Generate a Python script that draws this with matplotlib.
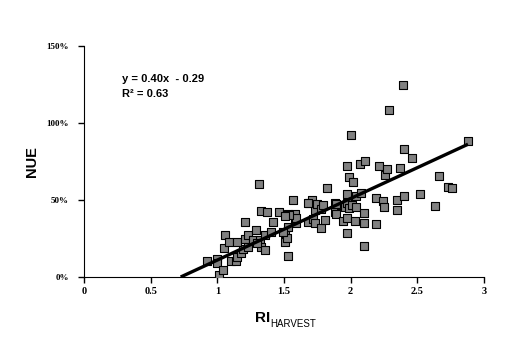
import numpy as np
import matplotlib
matplotlib.use("Agg")
import matplotlib.pyplot as plt

# RI harvest vs NUE (%)
ri = [0.92, 1.00, 1.00, 1.01, 1.04, 1.05, 1.06, 1.09, 1.10, 1.14,
      1.15, 1.18, 1.19, 1.15, 1.21, 1.21, 1.23, 1.23, 1.27, 1.29,
      1.31, 1.32, 1.33, 1.33, 1.36, 1.36, 1.37, 1.40, 1.42, 1.46,
      1.51, 1.51, 1.52, 1.53, 1.53, 1.53, 1.58, 1.58, 1.57, 1.59,
      1.59, 1.30, 1.49, 1.68, 1.69, 1.71, 1.72, 1.73, 1.73, 1.75,
      1.78, 1.78, 1.79, 1.81, 1.82, 1.88, 1.88, 1.89, 1.93, 1.94,
      1.96, 1.97, 1.97, 1.97, 1.97, 1.97, 1.99, 1.99, 2.00, 2.01,
      2.02, 2.03, 2.04, 2.04, 2.07, 2.08, 2.10, 2.10, 2.10, 2.11,
      2.19, 2.19, 2.21, 2.24, 2.25, 2.26, 2.27, 2.29, 2.35, 2.35,
      2.37, 2.39, 2.40, 2.40, 2.46, 2.52, 2.63, 2.66, 2.73, 2.76,
      2.88, 1.68, 1.54, 1.51, 1.89]
nue = [10.4, 11.7, 9.1, 1.3, 4.5, 18.8, 27.3, 22.7, 10.4, 10.4,
       13.0, 15.6, 18.2, 22.7, 24.7, 35.7, 27.3, 19.5, 24.0, 30.5,
       60.4, 24.0, 42.9, 19.5, 17.5, 27.3, 42.2, 29.2, 35.7, 42.2,
       28.6, 22.7, 25.3, 13.6, 32.5, 40.9, 40.9, 36.4, 50.0, 35.1,
       38.3, 22.1, 29.2, 35.7, 48.1, 50.0, 37.7, 43.5, 35.1, 47.4,
       44.2, 31.8, 46.8, 37.0, 57.8, 48.1, 42.2, 40.9, 46.8, 36.4,
       45.5, 48.1, 53.9, 72.1, 38.3, 28.6, 64.9, 44.8, 92.2, 46.8,
       61.7, 36.4, 45.5, 52.6, 73.4, 54.5, 41.6, 35.1, 20.1, 75.3,
       51.3, 34.4, 72.1, 49.4, 45.5, 66.2, 70.1, 108.4, 50.0, 43.5,
       70.8, 124.7, 52.6, 83.1, 77.3, 53.9, 46.1, 65.6, 58.4, 57.8,
       88.3, 48.1, 40.3, 39.6, 47.4]

slope = 0.40
intercept = -0.29
r2 = 0.63

x_ticks = [0, 0.5, 1, 1.5, 2, 2.5, 3]
x_labels = ["0", "0.5", "1", "1.5", "2", "2.5", "3"]
y_ticks = [0, 50, 100, 150]
y_labels = ["0%", "50%", "100%", "150%"]

fig = plt.figure(figsize=(5.2, 3.52), dpi=100)
ax = fig.add_axes([84 / 520, 75 / 352, 400 / 520, 231 / 352])

ax.scatter(ri, nue, marker='s', s=26, facecolor='#808080', edgecolor='black',
           linewidths=0.8, zorder=3)

# linear trendline, clipped at y = 0 like the original
x_fit = np.array([-intercept / slope, max(ri)])
ax.plot(x_fit, (slope * x_fit + intercept) * 100, color='black', linewidth=2.4,
        zorder=4, solid_capstyle='butt')

ax.set_xlim(0, 3)
ax.set_ylim(0, 150)
ax.spines['top'].set_visible(False)
ax.spines['right'].set_visible(False)
ax.set_xticks(x_ticks)
ax.set_xticklabels(x_labels, family='Liberation Serif', weight='bold', fontsize=7.5)
ax.set_yticks(y_ticks)
ax.set_yticklabels(y_labels, family='Liberation Serif', weight='bold', fontsize=6.5)
ax.tick_params(direction='out', length=4, width=1, pad=3)
ax.tick_params(axis='y', pad=7)

ax.set_ylabel("NUE", family='Liberation Sans', weight='bold', fontsize=10.5, labelpad=5)

fig.text(255 / 520, 1 - 322 / 352, "RI", family='Liberation Sans', weight='bold',
         fontsize=11, ha='left', va='baseline')
fig.text(270 / 520, 1 - 327 / 352, "HARVEST", family='Liberation Sans',
         fontsize=7, ha='left', va='baseline')

ax.text(0.095, 0.842, f"y = {slope:.2f}x  - {abs(intercept):.2f}", transform=ax.transAxes,
        family='Liberation Sans', weight='bold', fontsize=8, va='baseline')
ax.text(0.095, 0.779, f"R\u00b2 = {r2:.2f}", transform=ax.transAxes,
        family='Liberation Sans', weight='bold', fontsize=8, va='baseline')

fig.savefig("out.png", dpi=100)
